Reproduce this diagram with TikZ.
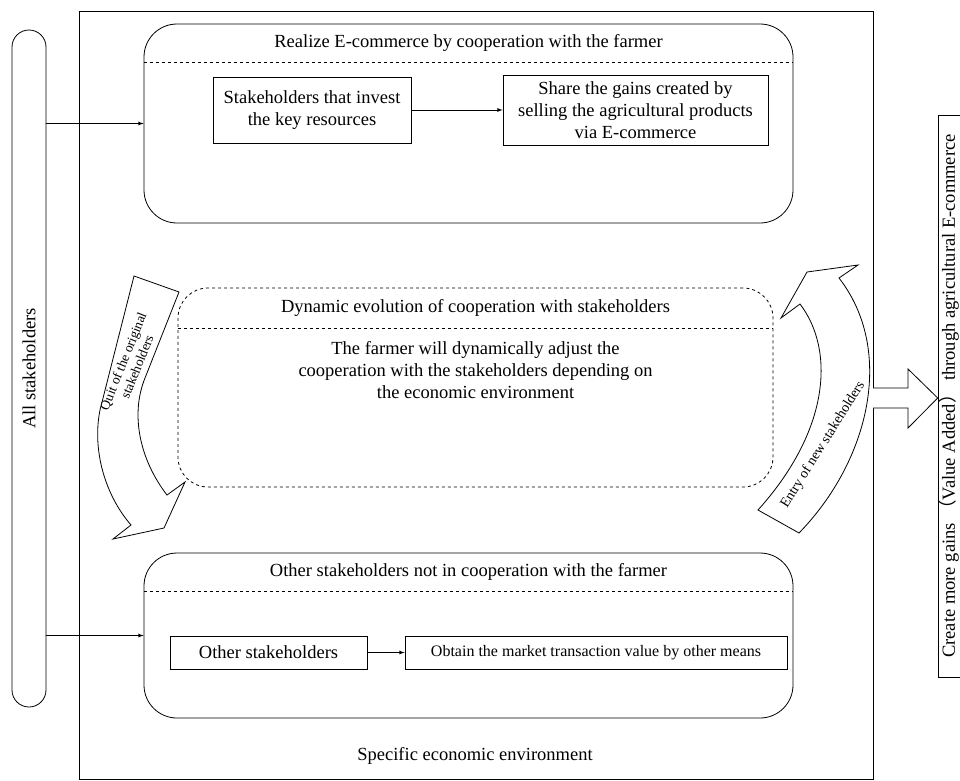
\documentclass[tikz,border=0pt]{standalone}
\usepackage{fontspec}
\setmainfont{Liberation Serif}
\newfontfamily\cjk{Noto Sans CJK SC}
\begin{document}
\begin{tikzpicture}[x=1pt,y=-1pt,line width=0.8pt,
    every node/.style={font=\fontsize{18.5}{22}\selectfont},
    rbox/.style={draw,rounded corners=33pt,minimum width=649pt},
    sbox/.style={draw,align=center,inner sep=0pt},
    band/.style={draw,fill=white}]
  \useasboundingbox (0,0) rectangle (960,780);
  % environment and all stakeholders
  \node[draw,minimum width=794pt,minimum height=768pt,anchor=north west] (env) at (79,11) {};
  \node at (475,756) {Specific economic environment};
  \node[draw,rounded corners=17pt,rotate=90,minimum width=677pt,minimum height=34pt] (all) at (29,368.5) {All stakeholders};
  % cooperation with the farmer
  \node[rbox,minimum height=199pt] (coop) at (468.5,123.5) {};
  \node at (468.5,43) {Realize E-commerce by cooperation with the farmer};
  \draw[dashed] (144,62) -- (793,62);
  \node[sbox,minimum width=198pt,minimum height=66pt] (invest) at (312,110) {Stakeholders that invest\\the key resources};
  \node[sbox,minimum width=265pt,minimum height=70pt] (share) at (635.5,110) {Share the gains created by\\selling the agricultural products\\via E-commerce};
  \draw[-latex] (invest) -- (share);
  \draw[-latex] (all.south |- coop.west) -- (coop.west);
  % dynamic evolution
  \node[draw,dashed,rounded corners=30pt,minimum width=595pt,minimum height=199pt] (dyn) at (475.5,387.5) {};
  \draw[dashed] (178,328) -- (773,328);
  \node at (475.5,308) {Dynamic evolution of cooperation with stakeholders};
  \node[align=center] at (475.5,370) {The farmer will dynamically adjust the\\cooperation with the stakeholders depending on\\the economic environment};
  % not in cooperation
  \node[rbox,minimum height=165pt] (other) at (468.5,635.5) {};
  \node at (468.5,572) {Other stakeholders not in cooperation with the farmer};
  \draw[dashed] (144,591) -- (793,591);
  \node[sbox,minimum width=197pt,minimum height=33pt] (rest) at (268.5,652.5) {Other stakeholders};
  \node[sbox,minimum width=382pt,minimum height=33pt,font=\fontsize{16}{19}\selectfont] (means) at (596,652.5) {Obtain the market transaction value by other means};
  \draw[-latex] (rest) -- (means);
  \draw[-latex] (all.south |- other.west) -- (other.west);
  % quit and entry
  \draw[band] (134,276) -- (179,292) -- (145,378) .. controls (130,415) and (140,460) .. (167,495)
    -- (185,482) -- (164,528) -- (113,539) -- (131,525) .. controls (105,495) and (92,450) .. (100,410) -- cycle;
  \node[rotate=68,align=center,font=\fontsize{13.5}{15}\selectfont] at (130,364) {Quit of the original\\stakeholders};
  \draw[band] (758,510) -- (799,533) .. controls (870,460) and (895,350) .. (839,278)
    -- (858,265) -- (807,272) -- (781,318) -- (800,304) .. controls (835,350) and (830,430) .. (758,510) -- cycle;
  \node[rotate=58,font=\fontsize{14}{16}\selectfont] at (823,445) {Entry of new stakeholders};
  % value added
  \node[draw,rotate=90,minimum width=562pt,minimum height=20pt,inner sep=1pt] (gain) at (949,396) {Create more gains {\cjk （}Value Added{\cjk ）} through agricultural E-commerce};
  \draw[fill=white] (873,388) -- (908,388) -- (908,369) -- (gain.north |- 0,398) -- (908,428) -- (908,408) -- (873,408);
\end{tikzpicture}
\end{document}
